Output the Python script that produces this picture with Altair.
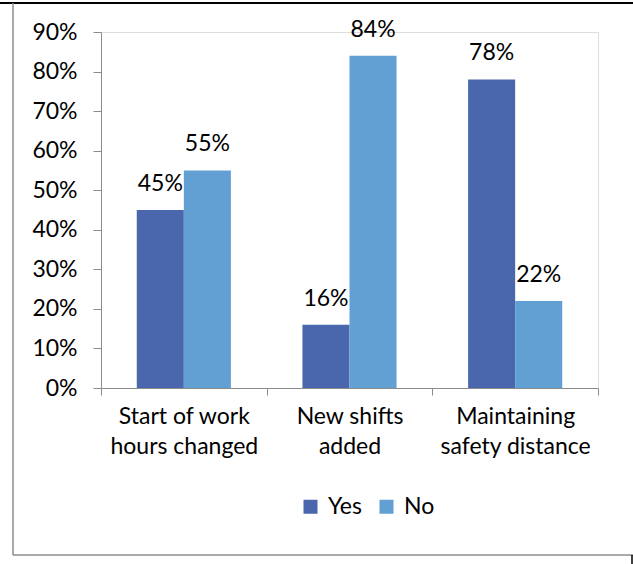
import altair as alt
import pandas as pd

categories = ["Start of work|hours changed", "New shifts|added", "Maintaining|safety distance"]
series = ["Yes", "No"]
yes_values = [0.45, 0.16, 0.78]
no_values = [0.55, 0.84, 0.22]
colors = ["#4A66AC", "#629FD3"]

rows = []
for c, y, n in zip(categories, yes_values, no_values):
    rows.append({"category": c, "series": "Yes", "value": y})
    rows.append({"category": c, "series": "No", "value": n})
df = pd.DataFrame(rows)

FONT = "Lato"
GRAY = "#8C8C8C"

x = alt.X("category:N", sort=categories, title=None,
          scale=alt.Scale(paddingInner=0, paddingOuter=0),
          axis=alt.Axis(labelAngle=0, labelFont=FONT, labelFontSize=23, labelColor="#000000",
                        labelExpr="split(datum.label, '|')", labelLineHeight=30,
                        labelPadding=10, tickBand="extent", tickSize=7,
                        tickColor=GRAY, domainColor=GRAY, grid=False, labelBaseline="top"))
xo = alt.XOffset("series:N", sort=series,
                 scale=alt.Scale(paddingOuter=0.76, paddingInner=0))
y = alt.Y("value:Q", title=None,
          scale=alt.Scale(domain=[0, 0.9], nice=False),
          axis=alt.Axis(values=[0, 0.1, 0.2, 0.3, 0.4, 0.5, 0.6, 0.7, 0.8, 0.9], format=".0%",
                        labelFont=FONT, labelFontSize=23, labelColor="#000000",
                        tickSize=8, labelPadding=16, tickColor=GRAY, domainColor=GRAY, grid=False))

bars = alt.Chart(df).mark_bar().encode(
    x=x, xOffset=xo, y=y,
    color=alt.Color("series:N", sort=series,
                    scale=alt.Scale(domain=series, range=colors),
                    legend=alt.Legend(title=None, orient="none", direction="horizontal",
                                      legendX=198, legendY=463, symbolType="square",
                                      symbolSize=196, symbolStrokeWidth=0,
                                      labelFont=FONT, labelFontSize=23, labelColor="#000000",
                                      labelOffset=6, columnPadding=13, padding=0))
)

labels = alt.Chart(df).mark_text(font=FONT, fontSize=23, color="#000000",
                                 baseline="alphabetic", dy=-19).encode(
    x=x, xOffset=xo, y=y, text=alt.Text("value:Q", format=".0%")
)

one = pd.DataFrame({"k": [0]})
top_line = alt.Chart(one).mark_rule(color="#000000", strokeWidth=2).encode(
    x=alt.value(-101), x2=alt.value(532), y=alt.value(-29))
left_line = alt.Chart(one).mark_rule(color="#8C8C8C", strokeWidth=1.5).encode(
    x=alt.value(-88), y=alt.value(-29), y2=alt.value(523))
bottom_line = alt.Chart(one).mark_rule(color="#8C8C8C", strokeWidth=1.5).encode(
    x=alt.value(-88), x2=alt.value(532), y=alt.value(523))
right_line = alt.Chart(one).mark_rule(color="#000000", strokeWidth=1.5).encode(
    x=alt.value(531), y=alt.value(523), y2=alt.value(532))

chart = alt.layer(bars, labels, top_line, left_line, bottom_line, right_line).properties(
    width=497, height=356,
    padding={"left": 101, "top": 32, "right": 35, "bottom": 176},
    autosize=alt.AutoSizeParams(type="none"),
).configure_view(stroke=None).configure(background="#FFFFFF")

chart.save("out.html", embed_options={"renderer": "svg", "actions": False})
